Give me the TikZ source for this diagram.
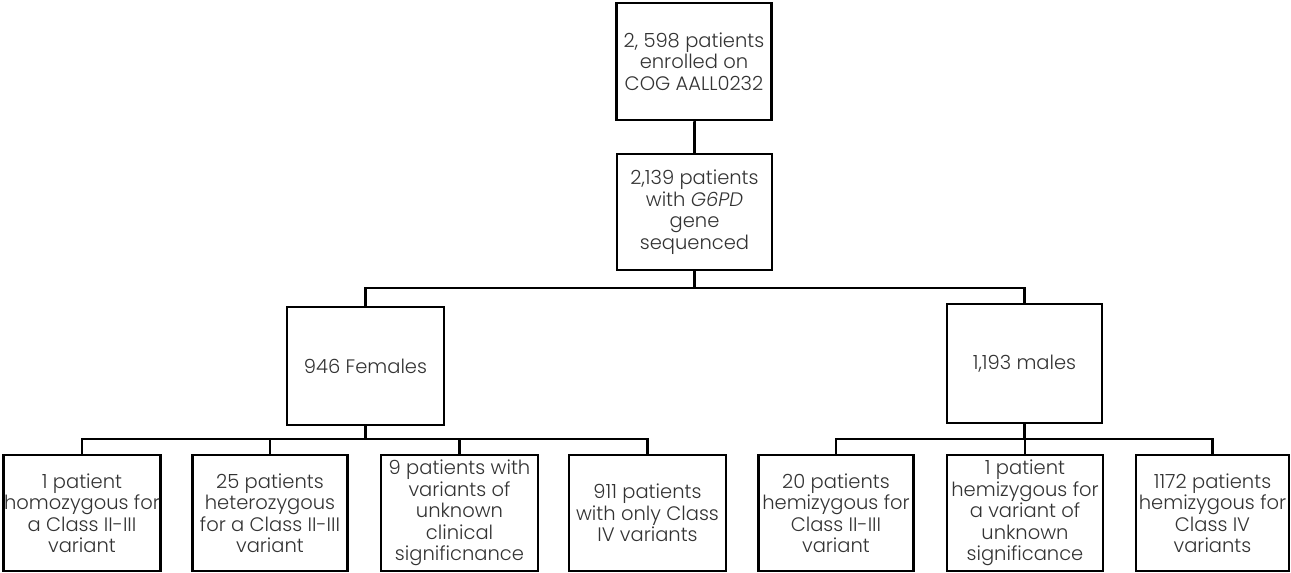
\documentclass[tikz,border=0pt]{standalone}
\usepackage{fontspec}
\setmainfont{Poppins}[UprightFont=* Light,ItalicFont=* Light Italic]
\begin{document}
\begin{tikzpicture}[x=1pt,y=-1pt,
  box/.style={draw=black,line width=2.6pt,align=center,inner sep=0pt,
    minimum width=155pt,minimum height=116pt,text=black!80,
    font=\fontsize{19.5}{21.5}\selectfont},
  link/.style={draw=black,line width=2.6pt}]
\useasboundingbox (0,0) rectangle (1291,573);
\node[box,minimum height=117pt] (top) at (694,61.5) {2, 598 patients\\enrolled on\\COG AALL0232};
\node[box] (seq) at (694.5,212) {2,139 patients\\with \textit{G6PD}\\gene\\sequenced};
\node[box,minimum width=157pt,minimum height=118pt] (fem) at (365.5,366) {946 Females};
\node[box,minimum height=119pt] (mal) at (1024.5,363.5) {1,193 males};
\node[box,minimum width=157pt] (f1) at (82,513) {1 patient\\homozygous for\\a Class II-III\\variant};
\node[box] (f2) at (270,513) {25 patients\\heterozygous\\for a Class II-III\\variant};
\node[box,minimum width=157pt] (f3) at (459.5,513) {9 patients with\\variants of\\unknown\\clinical\\significnance};
\node[box,minimum width=157pt] (f4) at (647.5,513) {911 patients\\with only Class\\IV variants};
\node[box] (m1) at (836,513) {20 patients\\hemizygous for\\Class II-III\\variant};
\node[box,minimum width=156pt] (m2) at (1025,513) {1 patient\\hemizygous for\\a variant of\\unknown\\significance};
\node[box,minimum width=153pt] (m3) at (1212.5,513) {1172 patients\\hemizygous for\\Class IV\\variants};
\draw[link] (top.south) -- (seq.south |- top.south) -- (seq.north);
\coordinate (bus1) at (694.5,288);
\draw[link] (seq.south) -- (bus1);
\draw[link] (fem.north) -- (fem.north |- bus1) -- (mal.north |- bus1) -- (mal.north);
\coordinate (busf) at (365.5,439);
\draw[link] (fem.south) -- (busf);
\draw[link] (f1.north) -- (f1.north |- busf) -- (f4.north |- busf) -- (f4.north);
\draw[link] (f2.north) -- (f2.north |- busf);
\draw[link] (f3.north) -- (f3.north |- busf);
\coordinate (busm) at (1024.5,439);
\draw[link] (mal.south) -- (busm);
\draw[link] (m1.north) -- (m1.north |- busm) -- (m3.north |- busm) -- (m3.north);
\draw[link] (m2.north) -- (m2.north |- busm);
\end{tikzpicture}
\end{document}
